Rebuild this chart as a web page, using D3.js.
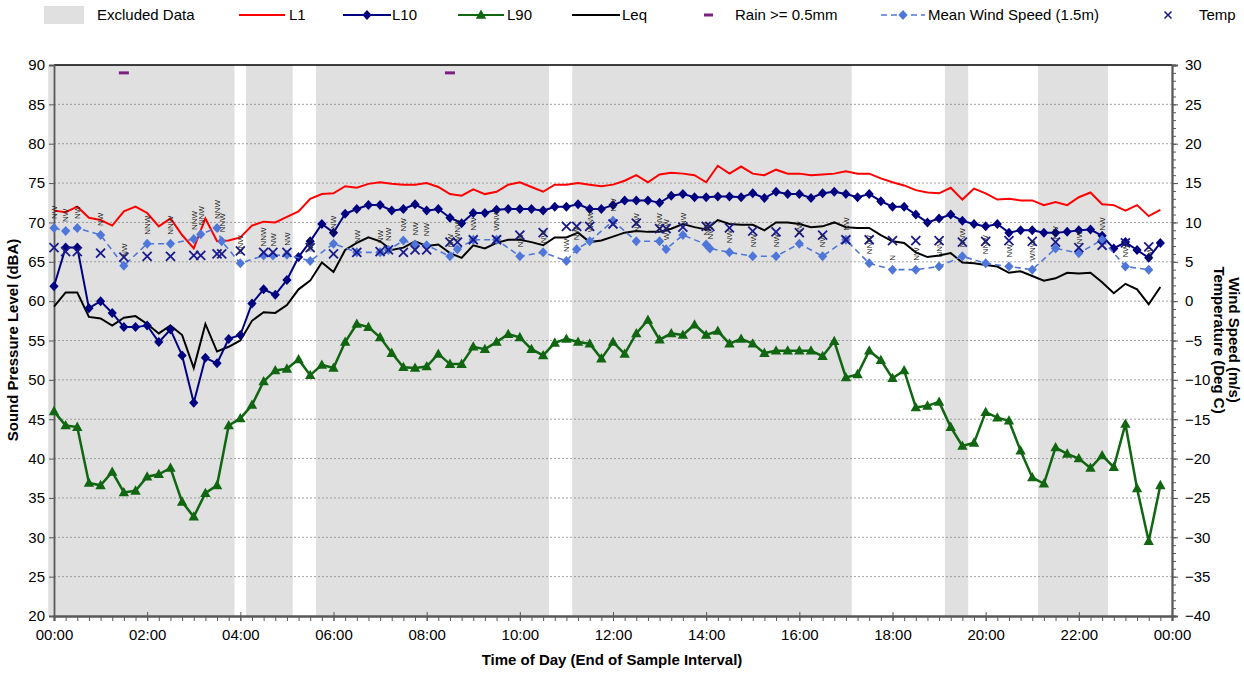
<!DOCTYPE html>
<html>
<head>
<meta charset="utf-8">
<script src="https://cdn.jsdelivr.net/npm/d3@7"></script>
<style>
  body { margin: 0; background: #fff; }
  text { font-family: Arial, "Liberation Sans", sans-serif; }
</style>
</head>
<body>
<svg id="chart" width="1244" height="673"></svg>
<script>
// ---- data ----
// noise levels, one value every 15 minutes from 00:00 to 23:45
const L1 = [71.5, 71.3, 72.0, 70.6, 70.3, 69.6, 71.4, 72.0, 71.2, 69.5, 70.5, 68.4, 66.7, 70.5, 67.6, 67.7,
  68.1, 69.6, 70.1, 70.0, 70.7, 71.4, 73.0, 73.6, 73.7, 74.6, 74.4, 74.9, 75.1, 74.9, 74.8, 74.8,
  75.0, 74.5, 73.6, 73.4, 74.2, 73.6, 73.9, 74.8, 75.1, 74.5, 73.9, 74.8, 74.8, 75.0, 74.8, 74.6,
  74.8, 75.3, 76.0, 75.1, 76.1, 76.3, 76.2, 76.0, 75.1, 77.2, 76.2, 77.1, 76.2, 76.0, 76.7, 76.2,
  76.2, 76.0, 76.1, 76.2, 76.5, 76.2, 76.2, 75.6, 75.1, 74.7, 74.1, 73.8, 73.7, 74.4, 72.9, 74.3,
  73.7, 72.9, 73.0, 72.8, 72.8, 72.2, 72.6, 72.2, 73.2, 73.8, 72.3, 72.2, 71.5, 72.2, 70.8, 71.6];

const L10 = [61.9, 66.8, 66.8, 59.1, 60.0, 58.5, 56.7, 56.7, 56.9, 54.8, 56.4, 53.1, 47.1, 52.8, 52.1, 55.2,
  55.7, 59.7, 61.5, 60.8, 62.7, 65.6, 67.6, 69.8, 68.7, 71.1, 71.7, 72.2, 72.2, 71.5, 71.7, 72.3,
  71.5, 71.7, 70.6, 69.9, 71.2, 71.2, 71.6, 71.7, 71.7, 71.7, 71.5, 72.0, 72.0, 72.3, 71.7, 71.7,
  72.2, 72.8, 72.8, 72.8, 72.5, 73.4, 73.6, 73.2, 73.2, 73.3, 73.3, 73.2, 73.7, 73.1, 73.9, 73.6,
  73.6, 73.1, 73.7, 73.9, 73.6, 73.2, 73.6, 72.7, 72.0, 72.0, 71.0, 70.0, 70.5, 71.0, 70.2, 69.8,
  69.5, 69.8, 68.7, 69.0, 69.0, 68.7, 68.7, 68.8, 69.0, 69.1, 68.3, 66.7, 67.5, 66.5, 65.5, 67.4];

const L90 = [46.0, 44.2, 44.0, 36.9, 36.6, 38.3, 35.7, 35.9, 37.7, 38.0, 38.8, 34.5, 32.6, 35.6, 36.6, 44.2,
  45.1, 46.8, 49.8, 51.2, 51.4, 52.6, 50.6, 51.9, 51.5, 54.8, 57.1, 56.7, 55.4, 53.4, 51.6, 51.5,
  51.7, 53.3, 52.0, 52.0, 54.2, 53.9, 54.8, 55.8, 55.4, 53.9, 53.1, 54.7, 55.2, 54.8, 54.6, 52.7,
  54.8, 53.3, 55.9, 57.6, 55.1, 55.9, 55.7, 57.0, 55.7, 56.2, 54.6, 55.2, 54.6, 53.4, 53.7, 53.7,
  53.7, 53.7, 53.0, 54.9, 50.3, 50.7, 53.7, 52.5, 50.2, 51.2, 46.5, 46.7, 47.2, 44.0, 41.6, 42.0,
  45.9, 45.2, 44.8, 41.0, 37.6, 36.8, 41.4, 40.6, 40.0, 38.8, 40.4, 38.9, 44.4, 36.2, 29.5, 36.6];

const Leq = [59.3, 61.1, 61.1, 58.0, 57.8, 56.9, 57.9, 58.1, 57.1, 55.9, 56.9, 55.7, 51.5, 57.1, 53.6, 54.2,
  55.0, 57.5, 58.6, 58.5, 59.5, 61.5, 62.6, 64.9, 63.7, 66.5, 67.4, 68.1, 67.6, 66.5, 66.8, 67.6,
  67.0, 67.2, 66.1, 65.5, 67.1, 66.7, 67.4, 67.8, 67.8, 67.5, 67.1, 68.1, 68.1, 68.7, 67.5, 67.7,
  68.2, 68.7, 68.9, 68.8, 68.8, 69.2, 69.8, 69.4, 69.1, 70.3, 69.8, 69.7, 69.7, 69.0, 70.0, 70.0,
  69.8, 69.4, 69.5, 70.0, 69.4, 69.3, 69.3, 68.4, 67.6, 67.4, 66.2, 65.6, 65.8, 66.1, 64.9, 64.8,
  64.6, 64.4, 63.6, 63.8, 63.2, 62.6, 62.9, 63.6, 63.5, 63.6, 62.4, 61.0, 62.2, 61.5, 59.6, 61.8];

// weather readings (hour of day)
const wxTime = [0, 0.25, 0.5, 1, 1.5, 2, 2.5, 3, 3.15, 3.5, 3.6, 4, 4.5, 4.7, 5, 5.5, 6, 6.5, 7, 7.18,
  7.5, 7.75, 8, 8.5, 8.66, 9, 9.5, 10, 10.5, 11, 11.22, 11.5, 12, 12.5, 13, 13.14, 13.5, 14, 14.08, 14.5,
  15, 15.5, 16, 16.5, 17, 17.5, 18, 18.5, 19, 19.5, 20, 20.5, 21, 21.5, 22, 22.5, 23, 23.5];

const windSpeed = [9.3, 8.9, 9.3, 8.4, 4.5, 7.3, 7.3, 7.9, 8.5, 9.3, 7.6, 4.8, 5.8, 5.8, 5.9, 5.1, 7.3, 6.2, 6.2, 6.5,
  7.7, 7.2, 7.1, 5.7, 6.6, 7.8, 7.8, 5.7, 6.2, 5.1, 6.6, 7.6, 10.2, 7.6, 7.6, 6.6, 8.4, 7.2, 6.7, 6.2,
  5.7, 5.7, 7.3, 5.7, 7.8, 4.8, 4.0, 4.0, 4.4, 5.7, 4.8, 4.4, 4.0, 6.7, 6.1, 7.8, 4.4, 4.0];

const temp = [6.8, 6.3, 6.3, 6.1, 5.6, 5.7, 5.7, 5.8, 5.8, 6.0, 6.0, 6.4, 6.2, 6.2, 6.2, 6.8, 6.0, 6.2, 6.3, 6.5,
  6.2, 6.5, 6.5, 7.5, 7.5, 7.8, 7.8, 8.4, 8.7, 9.5, 9.5, 9.5, 9.8, 9.9, 9.2, 9.2, 9.4, 9.5, 9.5, 9.3,
  8.9, 8.8, 8.7, 8.4, 7.8, 7.8, 7.7, 7.7, 7.7, 7.5, 7.6, 7.7, 7.6, 7.5, 6.8, 7.1, 7.4, 6.9];

const windDir = ['NW', 'NW', 'NW', 'NW', 'NW', 'NNW', 'NNW', 'NNW', 'NNW', 'NNW', 'NNW', 'NNW', 'NNW', 'NW', 'NW', 'NW', 'NNW', 'NW', 'NW', 'NW',
  'NW', 'NW', 'NW', 'NW', 'WNW', 'NW', 'WNW', 'NW', 'NW', 'NW', 'NW', 'WNW', 'NW', 'NNW', 'NNW', 'WNW', 'NW', 'NW', 'NW', 'NW',
  'NW', 'NW', 'NW', 'NW', 'NW', 'NNW', 'N', 'NW', 'NNW', 'NNW', 'NNW', 'NW', 'WNW', 'NW', 'NW', 'NW', 'NW', 'NW'];

const rainTime = [1.5, 8.5];
const rainMark = [29, 29];

// excluded periods [start, end] in hours
const excluded = [[-0.125, 3.875], [4.125, 5.125], [5.625, 10.625], [11.125, 17.125], [19.125, 19.625], [21.125, 22.625]];

const leftTicks = [20, 25, 30, 35, 40, 45, 50, 55, 60, 65, 70, 75, 80, 85, 90];
const rightTicks = [-40, -35, -30, -25, -20, -15, -10, -5, 0, 5, 10, 15, 20, 25, 30];
const xTickHours = [0, 2, 4, 6, 8, 10, 12, 14, 16, 18, 20, 22, 24];
const xTickLabels = ['00:00', '02:00', '04:00', '06:00', '08:00', '10:00', '12:00', '14:00', '16:00', '18:00', '20:00', '22:00', '00:00'];

const noiseTimes = d3.range(L1.length).map(i => i * 0.25);

// ---- layout ----
const svg = d3.select('#chart');
const plot = { left: 54, right: 1172, top: 65, bottom: 616 };

const x = d3.scaleLinear().domain([0, 24]).range([plot.left, plot.right]);
const y = d3.scaleLinear().domain([20, 90]).range([plot.bottom, plot.top]);
const y2 = d3.scaleLinear().domain([-40, 30]).range([plot.bottom, plot.top]);

const colors = { L1: '#ff0000', L10: '#000080', L90: '#116611', Leq: '#000000', wind: '#4f77d9', temp: '#1a1a8c', rain: '#7d1f80', excl: '#e0e0e0' };

// excluded bands
svg.append('g')
  .selectAll('rect')
  .data(excluded)
  .join('rect')
  .attr('x', d => x(d[0]))
  .attr('width', d => x(d[1]) - x(d[0]))
  .attr('y', plot.top)
  .attr('height', plot.bottom - plot.top)
  .attr('fill', colors.excl);

// gridlines
svg.append('g')
  .selectAll('line')
  .data(leftTicks.filter(v => v > 20 && v < 90))
  .join('line')
  .attr('x1', plot.left).attr('x2', plot.right)
  .attr('y1', d => y(d)).attr('y2', d => y(d))
  .attr('stroke', '#8a8a8a')
  .attr('stroke-width', 0.8)
  .attr('stroke-dasharray', '2,2');

// top border
svg.append('line')
  .attr('x1', plot.left).attr('x2', plot.right)
  .attr('y1', plot.top).attr('y2', plot.top)
  .attr('stroke', '#000').attr('stroke-width', 1.5);

// left axis
svg.append('g')
  .attr('transform', `translate(${plot.left},0)`)
  .call(d3.axisLeft(y).tickValues(leftTicks).tickSize(5).tickPadding(4));

// right axis: minor ticks then major
svg.append('g')
  .attr('transform', `translate(${plot.right},0)`)
  .call(d3.axisRight(y2).tickValues(d3.range(-40, 31, 1)).tickSize(4).tickFormat(''));
const gRight = svg.append('g')
  .attr('transform', `translate(${plot.right},0)`)
  .call(d3.axisRight(y2).tickValues(rightTicks).tickSize(6).tickPadding(7));

// bottom axis: minor ticks every 15 min, major crossing ticks every 2 h
svg.append('g')
  .attr('transform', `translate(0,${plot.bottom})`)
  .call(d3.axisBottom(x).tickValues(d3.range(0, 24.01, 0.25)).tickSize(5).tickFormat(''));
const gBottom = svg.append('g')
  .attr('transform', `translate(0,${plot.bottom})`)
  .call(d3.axisBottom(x).tickValues(xTickHours).tickSize(5).tickPadding(8)
    .tickFormat((d, i) => xTickLabels[i]));
gBottom.selectAll('.tick line').attr('y1', -4);

svg.selectAll('.domain').attr('stroke', '#595959').attr('stroke-width', 1.8);
svg.selectAll('.tick line').attr('stroke', '#595959');
svg.selectAll('.tick text').attr('font-size', 15).attr('fill', '#000')
  .attr('font-family', 'Arial, "Liberation Sans", sans-serif');
gRight.selectAll('.tick text').attr('text-anchor', 'start');

// axis titles
svg.append('text')
  .attr('transform', `translate(18,340) rotate(-90)`)
  .attr('text-anchor', 'middle')
  .attr('font-size', 15).attr('font-weight', 'bold')
  .text('Sound Pressure Level (dBA)');

const rt = svg.append('text')
  .attr('transform', `translate(1224,340) rotate(90)`)
  .attr('text-anchor', 'middle')
  .attr('font-size', 15).attr('font-weight', 'bold');
rt.append('tspan').attr('x', 0).attr('dy', '-0.35em').text('Wind Speed (m/s)');
rt.append('tspan').attr('x', 0).attr('dy', '1.05em').text('Temperature (Deg C)');

svg.append('text')
  .attr('x', 612).attr('y', 665)
  .attr('text-anchor', 'middle')
  .attr('font-size', 15).attr('font-weight', 'bold')
  .text('Time of Day (End of Sample Interval)');

// ---- series ----
const diamond = 'M0,-5L4.6,0L0,5L-4.6,0Z';
const triangle = 'M0,-5.5L5.2,3.8L-5.2,3.8Z';

const noiseLine = d3.line().x((d, i) => x(noiseTimes[i])).y(d => y(d));

svg.append('path').datum(Leq).attr('d', noiseLine)
  .attr('fill', 'none').attr('stroke', colors.Leq).attr('stroke-width', 2);
svg.append('path').datum(L1).attr('d', noiseLine)
  .attr('fill', 'none').attr('stroke', colors.L1).attr('stroke-width', 2);

svg.append('path').datum(L10).attr('d', noiseLine)
  .attr('fill', 'none').attr('stroke', colors.L10).attr('stroke-width', 2);
svg.append('g').selectAll('path')
  .data(L10).join('path')
  .attr('d', diamond)
  .attr('transform', (d, i) => `translate(${x(noiseTimes[i])},${y(d)})`)
  .attr('fill', colors.L10);

svg.append('path').datum(L90).attr('d', noiseLine)
  .attr('fill', 'none').attr('stroke', colors.L90).attr('stroke-width', 2.5);
svg.append('g').selectAll('path')
  .data(L90).join('path')
  .attr('d', triangle)
  .attr('transform', (d, i) => `translate(${x(noiseTimes[i])},${y(d)})`)
  .attr('fill', colors.L90);

// wind speed (right axis)
const wxLine = d3.line().x((d, i) => x(wxTime[i])).y(d => y2(d));
svg.append('path').datum(windSpeed).attr('d', wxLine)
  .attr('fill', 'none').attr('stroke', colors.wind).attr('stroke-width', 1.6)
  .attr('stroke-dasharray', '6,4');
svg.append('g').selectAll('path')
  .data(windSpeed).join('path')
  .attr('d', diamond)
  .attr('transform', (d, i) => `translate(${x(wxTime[i])},${y2(d)})`)
  .attr('fill', colors.wind);

// temperature crosses
const tg = svg.append('g').selectAll('g')
  .data(temp).join('g')
  .attr('transform', (d, i) => `translate(${x(wxTime[i])},${y2(d)})`)
  .attr('stroke', colors.temp).attr('stroke-width', 1.8);
tg.append('line').attr('x1', -4.5).attr('y1', -4.5).attr('x2', 4.5).attr('y2', 4.5);
tg.append('line').attr('x1', -4.5).attr('y1', 4.5).attr('x2', 4.5).attr('y2', -4.5);

// rain marks
svg.append('g').selectAll('rect')
  .data(rainMark).join('rect')
  .attr('x', (d, i) => x(rainTime[i]) - 5)
  .attr('y', d => y2(d) - 1.5)
  .attr('width', 10).attr('height', 3)
  .attr('fill', colors.rain);

// wind direction labels above wind points
svg.append('g').selectAll('text')
  .data(windDir).join('text')
  .attr('transform', (d, i) => `translate(${x(wxTime[i])},${y2(windSpeed[i]) - 9}) rotate(-90)`)
  .attr('dy', '0.35em')
  .attr('font-size', 8)
  .attr('fill', '#222')
  .text(d => d);

// ---- legend ----
const lg = svg.append('g');
const ly = 15;
lg.append('rect').attr('x', 44).attr('y', 6).attr('width', 40).attr('height', 18).attr('fill', colors.excl);

function legendLine(x1, x2, color, dash) {
  lg.append('line').attr('x1', x1).attr('x2', x2).attr('y1', ly).attr('y2', ly)
    .attr('stroke', color).attr('stroke-width', 2.2).attr('stroke-dasharray', dash || null);
}
legendLine(239, 285, colors.L1);
legendLine(343, 391, colors.L10);
lg.append('path').attr('d', diamond).attr('transform', `translate(367,${ly})`).attr('fill', colors.L10);
legendLine(458, 504, colors.L90);
lg.append('path').attr('d', triangle).attr('transform', `translate(481,${ly})`).attr('fill', colors.L90);
legendLine(572, 620, colors.Leq);
lg.append('rect').attr('x', 704).attr('y', ly - 1.5).attr('width', 9).attr('height', 3).attr('fill', colors.rain);
lg.append('line').attr('x1', 881).attr('x2', 925).attr('y1', ly).attr('y2', ly)
  .attr('stroke', colors.wind).attr('stroke-width', 1.6).attr('stroke-dasharray', '6,4');
lg.append('path').attr('d', diamond).attr('transform', `translate(903,${ly})`).attr('fill', colors.wind);
const lx = lg.append('g').attr('transform', `translate(1168,${ly})`).attr('stroke', colors.temp).attr('stroke-width', 1.6);
lx.append('line').attr('x1', -3.5).attr('y1', -3.5).attr('x2', 3.5).attr('y2', 3.5);
lx.append('line').attr('x1', -3.5).attr('y1', 3.5).attr('x2', 3.5).attr('y2', -3.5);

const legendNames = ['Excluded Data', 'L1', 'L10', 'L90', 'Leq', 'Rain >= 0.5mm', 'Mean Wind Speed (1.5m)', 'Temp'];
const legendTextX = [97, 289, 392, 507, 622, 735, 928, 1199];
lg.selectAll('text.lt')
  .data(legendNames).join('text')
  .attr('x', (d, i) => legendTextX[i])
  .attr('y', ly)
  .attr('dy', '0.35em')
  .attr('font-size', 15)
  .text(d => d);
</script>
</body>
</html>
